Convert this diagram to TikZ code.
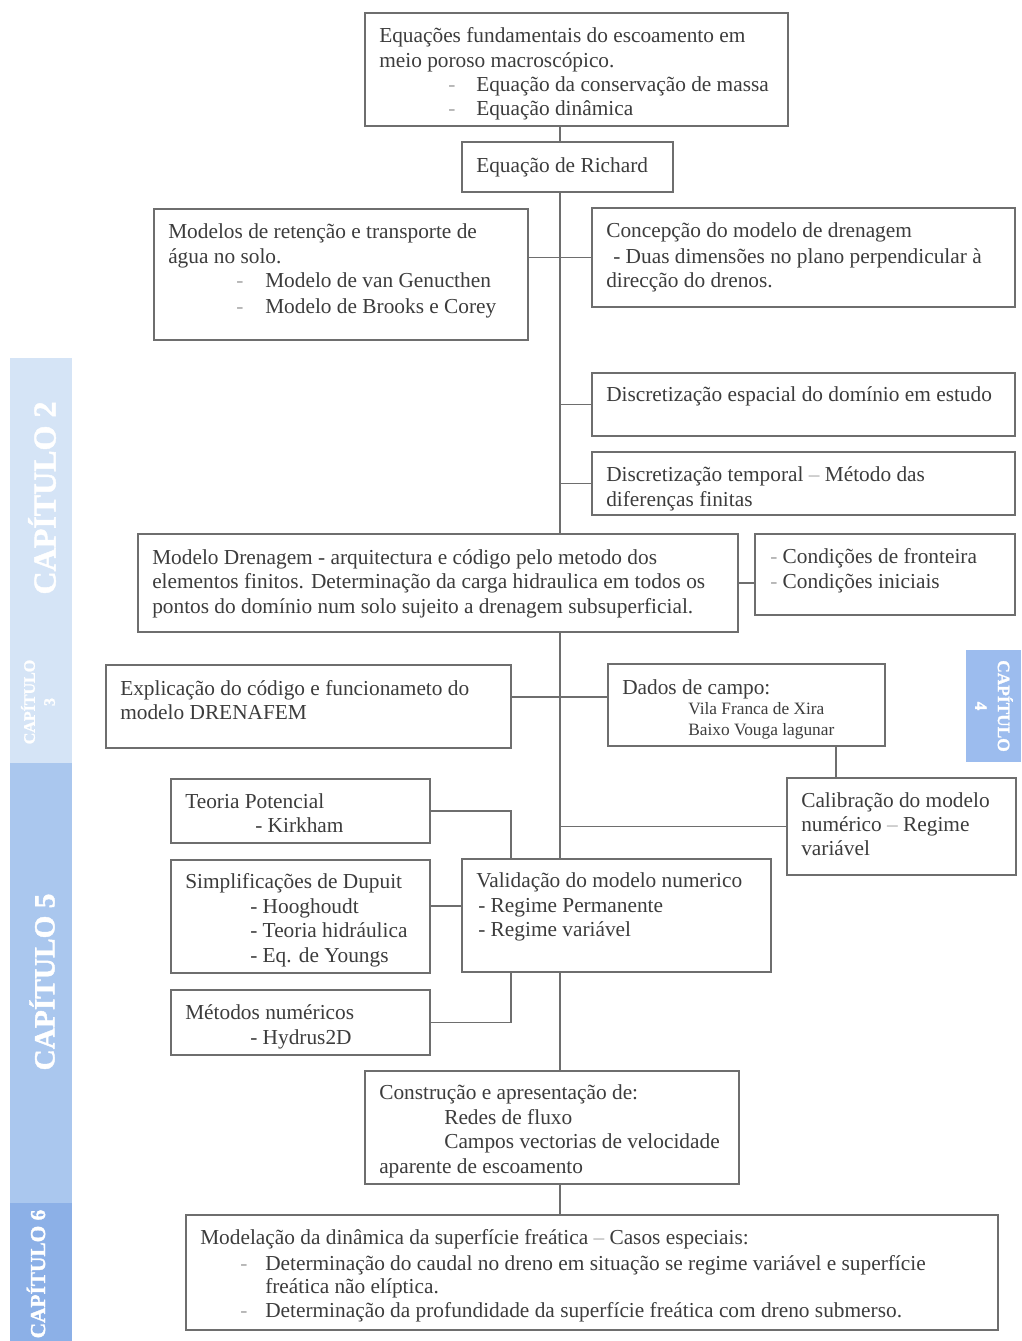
\documentclass[tikz,border=0pt]{standalone}
\usepackage{fontspec}
\setmainfont{Liberation Serif}
\newfontfamily\capfont[BoldFeatures={FakeBold=1.5}]{Liberation Serif}
\usetikzlibrary{fit}
\definecolor{txtc}{HTML}{3C3C3C}
\definecolor{linec}{HTML}{6E6E6E}
\definecolor{dashc}{HTML}{A8A8A8}
\definecolor{bandA}{HTML}{D5E4F6}
\definecolor{bandB}{HTML}{AAC7EE}
\definecolor{bandC}{HTML}{8CB0E7}
\definecolor{bandD}{HTML}{9CBCEE}
\newcommand\dsh[1]{\makebox[#1][l]{\textcolor{dashc}{-}}}
\begin{document}
\begin{tikzpicture}[x=0.75pt,y=-0.75pt,
  box/.style={draw=linec,line width=0.8pt,rectangle,inner sep=0pt},
  ln/.style={inner sep=0pt,anchor=west,yshift=-1.6pt,text=txtc,font=\fontsize{16}{18.75}\selectfont,execute at begin node=\strut},
  sm/.style={ln,font=\fontsize{13}{15}\selectfont},
  conn/.style={draw=linec,line width=0.8pt},
  chap/.style={text=white,font=\capfont\bfseries\fontsize{22}{24}\selectfont,align=center,inner sep=0pt}]
\useasboundingbox (0,0) rectangle (1021,1341);
% side bands
\fill[bandA] (10,358) rectangle (72,763);
\fill[bandB] (10,763) rectangle (72,1203);
\fill[bandC] (10,1203) rectangle (72,1341);
\fill[bandD] (966,650) rectangle (1021,762);
\node[chap,rotate=90,font=\capfont\bfseries\fontsize{24}{26}\selectfont] (cap2) at (42,498) {CAPÍTULO 2};
\node[chap,rotate=90,font=\capfont\bfseries\fontsize{12}{15}\selectfont] (cap3) at (38,702) {CAPÍTULO\\3};
\node[chap,rotate=90] (cap5) at (42,982) {CAPÍTULO 5};
\node[chap,rotate=90,font=\capfont\bfseries\fontsize{16}{18}\selectfont] (cap6) at (36,1274) {CAPÍTULO 6};
\node[chap,rotate=-90,font=\capfont\bfseries\fontsize{13}{17}\selectfont] (cap4) at (994,706) {CAPÍTULO\\4};
% coordinates
\coordinate (sx) at (560,0);
\coordinate (bx) at (511,0);
\coordinate (cx) at (836,0);
\coordinate (y697) at (0,697);
\coordinate (y906) at (0,906);
% boxes
\node[box,fit={(365,13) (788,126)}] (top) {};
\node[box,fit={(462,142) (673,192)}] (rich) {};
\node[box,fit={(154,209) (528,340)}] (modl) {};
\node[box,fit={(592,208) (1015,307)}] (conc) {};
\node[box,fit={(592,373) (1015,436)}] (desp) {};
\node[box,fit={(592,452) (1015,515)}] (dtmp) {};
\node[box,fit={(138,534) (738,632)}] (dren) {};
\node[box,fit={(755,534) (1015,615)}] (cond) {};
\node[box,fit={(106,665) (511,748)}] (expl) {};
\node[box,fit={(608,664) (885,746)}] (dados) {};
\node[box,fit={(171,779) (430,843)}] (teor) {};
\node[box,fit={(787,778) (1016,875)}] (calib) {};
\node[box,fit={(171,860) (430,973)}] (simp) {};
\node[box,fit={(462,859) (771,972)}] (valid) {};
\node[box,fit={(171,990) (430,1055)}] (meto) {};
\node[box,fit={(365,1071) (739,1184)}] (cons) {};
\node[box,fit={(186,1215) (998,1330)}] (mode) {};
% texts
\node[ln] (t1a) at (379,35) {Equações fundamentais do escoamento em};
\node[ln] (t1b) at (379,60) {meio poroso macroscópico.};
\node[ln] (t1c) at (448,84) {\dsh{21pt}Equação da conservação de massa};
\node[ln] (t1d) at (448,108) {\dsh{21pt}Equação dinâmica};
\node[ln] (t2a) at (476,165) {Equação de Richard};
\node[ln] (t3a) at (168,231) {Modelos de retenção e transporte de};
\node[ln] (t3b) at (168,256) {água no solo.};
\node[ln] (t3c) at (236,280) {\dsh{21.75pt}Modelo de van Genucthen};
\node[ln] (t3d) at (236,306) {\dsh{21.75pt}Modelo de Brooks e Corey};
\node[ln] (t4a) at (606,230) {Concepção do modelo de drenagem};
\node[ln] (t4b) at (613,256) {- Duas dimensões no plano perpendicular à};
\node[ln] (t4c) at (606,280) {direcção do drenos.};
\node[ln] (t5a) at (606,394) {Discretização espacial do domínio em estudo};
\node[ln] (t6a) at (606,474) {Discretização temporal \textcolor{dashc}{–} Método das};
\node[ln] (t6b) at (606,499) {diferenças finitas};
\node[ln] (t7a) at (152,557) {Modelo Drenagem - arquitectura e código pelo metodo dos};
\node[ln] (t7b) at (152,581) {elementos finitos. Determinação da carga hidraulica em todos os};
\node[ln] (t7c) at (152,606) {pontos do domínio num solo sujeito a drenagem subsuperficial.};
\node[ln] (t8a) at (770,556) {\textcolor{dashc}{-} Condições de fronteira};
\node[ln] (t8b) at (770,581) {\textcolor{dashc}{-} Condições iniciais};
\node[ln] (t9a) at (120,688) {Explicação do código e funcionameto do};
\node[ln] (t9b) at (120,712) {modelo DRENAFEM};
\node[ln] (t10a) at (622,687) {Dados de campo:};
\node[sm] (t10b) at (688,708) {Vila Franca de Xira};
\node[sm] (t10c) at (688,729) {Baixo Vouga lagunar};
\node[ln] (t11a) at (185,801) {Teoria Potencial};
\node[ln] (t11b) at (255,825) {- Kirkham};
\node[ln] (t12a) at (801,800) {Calibração do modelo};
\node[ln] (t12b) at (801,824) {numérico \textcolor{dashc}{–} Regime};
\node[ln] (t12c) at (801,848) {variável};
\node[ln] (t13a) at (185,881) {Simplificações de Dupuit};
\node[ln] (t13b) at (250,906) {- Hooghoudt};
\node[ln] (t13c) at (250,930) {- Teoria hidráulica};
\node[ln] (t13d) at (250,955) {- Eq. de Youngs};
\node[ln] (t14a) at (476,880) {Validação do modelo numerico};
\node[ln] (t14b) at (478,905) {- Regime Permanente};
\node[ln] (t14c) at (478,929) {- Regime variável};
\node[ln] (t15a) at (185,1012) {Métodos numéricos};
\node[ln] (t15b) at (250,1037) {- Hydrus2D};
\node[ln] (t16a) at (379,1092) {Construção e apresentação de:};
\node[ln] (t16b) at (444,1117) {Redes de fluxo};
\node[ln] (t16c) at (444,1141) {Campos vectorias de velocidade};
\node[ln] (t16d) at (379,1166) {aparente de escoamento};
\node[ln] (t17a) at (200,1237) {Modelação da dinâmica da superfície freática \textcolor{dashc}{–} Casos especiais:};
\node[ln] (t17b) at (240,1263) {\dsh{18.75pt}Determinação do caudal no dreno em situação se regime variável e superfície};
\node[ln] (t17c) at (265,1286) {freática não elíptica.};
\node[ln] (t17d) at (240,1310) {\dsh{18.75pt}Determinação da profundidade da superfície freática com dreno submerso.};
% connectors
\draw[conn] (top.south -| sx) -- (rich.north -| sx);
\draw[conn] (rich.south -| sx) -- (dren.north -| sx);
\draw[conn] (conc.west) -- (conc.west -| modl.east);
\draw[conn] (desp.west) -- (desp.west -| sx);
\draw[conn] (dtmp.west) -- (dtmp.west -| sx);
\draw[conn] (dren.east) -- (dren.east -| cond.west);
\draw[conn] (dren.south -| sx) -- (valid.north -| sx);
\draw[conn] (expl.east |- y697) -- (dados.west |- y697);
\draw[conn] (dados.south -| cx) -- (calib.north -| cx);
\draw[conn] (calib.west) -- (calib.west -| sx);
\draw[conn] (teor.east) -| (valid.north -| bx);
\draw[conn] (simp.east |- y906) -- (valid.west |- y906);
\draw[conn] (meto.east) -| (valid.south -| bx);
\draw[conn] (valid.south -| sx) -- (cons.north -| sx);
\draw[conn] (cons.south -| sx) -- (mode.north -| sx);
\end{tikzpicture}
\end{document}
